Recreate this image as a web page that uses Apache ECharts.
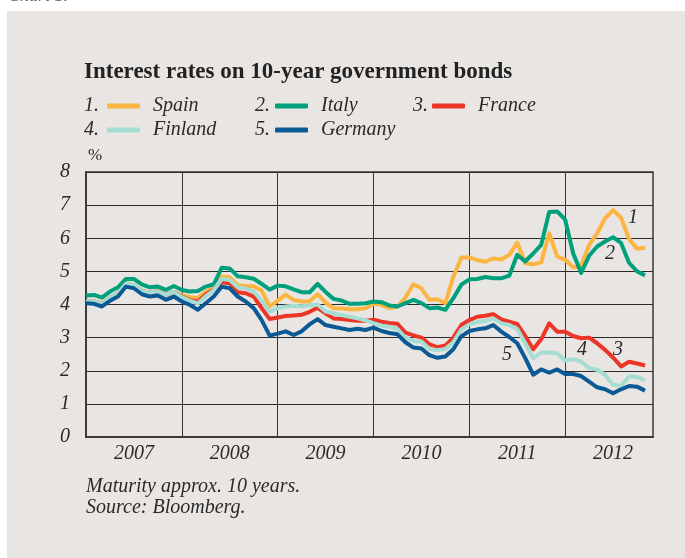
<!DOCTYPE html>
<html>
<head>
<meta charset="utf-8">
<script src="https://cdn.jsdelivr.net/npm/echarts@6/dist/echarts.min.js"></script>
<style>
  html, body { margin: 0; padding: 0; background: #fff; }
  #chart { width: 685px; height: 558px; }
</style>
</head>
<body>
<div id="chart"></div>
<script>
// monthly averages, Jan 2007 .. Nov 2012
const years = ['2007', '2008', '2009', '2010', '2011', '2012'];

const spain = [
  4.10, 4.10, 4.02, 4.20, 4.33, 4.64, 4.60, 4.42, 4.36, 4.40, 4.28, 4.38,
  4.28, 4.22, 4.20, 4.38, 4.50, 4.84, 4.82, 4.58, 4.56, 4.55, 4.42, 3.94,
  4.12, 4.30, 4.14, 4.09, 4.10, 4.31, 4.06, 3.89, 3.88, 3.86, 3.86, 3.89,
  4.02, 3.99, 3.89, 3.94, 4.21, 4.61, 4.49, 4.14, 4.16, 4.04, 4.84, 5.42,
  5.42, 5.34, 5.29, 5.39, 5.36, 5.50, 5.87, 5.25, 5.21, 5.27, 6.15, 5.45,
  5.35, 5.12, 5.18, 5.80, 6.15, 6.60, 6.85, 6.62, 5.98, 5.68, 5.71
];
const italy = [
  4.27, 4.29, 4.21, 4.39, 4.52, 4.77, 4.77, 4.61, 4.52, 4.54, 4.44, 4.56,
  4.44, 4.39, 4.41, 4.54, 4.61, 5.11, 5.09, 4.85, 4.82, 4.78, 4.62, 4.45,
  4.57, 4.55, 4.46, 4.37, 4.37, 4.62, 4.38, 4.17, 4.12, 4.02, 4.02, 4.04,
  4.09, 4.07, 3.97, 3.94, 4.04, 4.14, 4.04, 3.89, 3.91, 3.84, 4.19, 4.60,
  4.76, 4.77, 4.83, 4.79, 4.79, 4.87, 5.50, 5.30, 5.54, 5.80, 6.79, 6.81,
  6.56, 5.55, 4.95, 5.47, 5.75, 5.90, 6.03, 5.86, 5.26, 5.00, 4.88
];
const france = [
  4.10, 4.10, 4.02, 4.20, 4.33, 4.62, 4.58, 4.42, 4.36, 4.40, 4.28, 4.38,
  4.24, 4.14, 4.08, 4.30, 4.45, 4.67, 4.64, 4.37, 4.34, 4.24, 3.89, 3.56,
  3.61, 3.65, 3.67, 3.69, 3.78, 3.90, 3.73, 3.58, 3.56, 3.53, 3.51, 3.51,
  3.54, 3.48, 3.44, 3.42, 3.15, 3.07, 3.00, 2.80, 2.71, 2.76, 3.00, 3.38,
  3.53, 3.63, 3.66, 3.71, 3.55, 3.48, 3.41, 3.05, 2.65, 2.95, 3.43, 3.18,
  3.18, 3.05, 2.98, 3.00, 2.83, 2.63, 2.40, 2.13, 2.27, 2.22, 2.16
];
const finland = [
  4.10, 4.10, 4.02, 4.20, 4.33, 4.63, 4.60, 4.42, 4.36, 4.40, 4.28, 4.38,
  4.22, 4.12, 4.03, 4.25, 4.43, 4.77, 4.74, 4.52, 4.48, 4.39, 4.12, 3.78,
  3.89, 3.94, 3.96, 3.95, 3.98, 4.00, 3.79, 3.73, 3.68, 3.63, 3.58, 3.52,
  3.44, 3.36, 3.33, 3.26, 3.00, 2.90, 2.88, 2.66, 2.62, 2.66, 2.86, 3.25,
  3.40, 3.47, 3.50, 3.58, 3.43, 3.38, 3.26, 2.83, 2.38, 2.55, 2.55, 2.53,
  2.31, 2.35, 2.28, 2.08, 2.03, 1.88, 1.58, 1.55, 1.83, 1.81, 1.71
];
const germany = [
  4.04, 4.02, 3.94, 4.11, 4.24, 4.54, 4.49, 4.31, 4.24, 4.27, 4.14, 4.24,
  4.09, 3.99, 3.84, 4.04, 4.24, 4.54, 4.49, 4.24, 4.09, 3.89, 3.53, 3.06,
  3.12, 3.19, 3.08, 3.19, 3.40, 3.56, 3.38, 3.33, 3.28, 3.23, 3.27, 3.23,
  3.30, 3.20, 3.14, 3.10, 2.86, 2.70, 2.67, 2.47, 2.39, 2.43, 2.65, 3.04,
  3.20, 3.25, 3.28, 3.38, 3.18, 3.02, 2.83, 2.38, 1.88, 2.04, 1.94, 2.04,
  1.90, 1.90, 1.84, 1.67, 1.50, 1.44, 1.32, 1.44, 1.54, 1.52, 1.40
];

const months = [];
years.forEach(y => {
  for (let m = 1; m <= 12; m++) months.push(y + '-' + (m < 10 ? '0' + m : m));
});

const serif = '"Liberation Serif", "DejaVu Serif", serif';
const ink = '#2a2a2a';
const fs = 20;

const seriesDefs = [
  { name: 'Spain', data: spain, color: '#fbb540' },
  { name: 'Italy', data: italy, color: '#00a07c' },
  { name: 'France', data: france, color: '#ec3526' },
  { name: 'Finland', data: finland, color: '#a6ddd3' },
  { name: 'Germany', data: germany, color: '#0b5a96' },
];

// legend slots: [left of line, row centre]
const legendPos = [[107, 106], [275, 106], [432, 106], [107, 130], [275, 130]];
const legendNum = ['1.', '2.', '3.', '4.', '5.'];
const numLeft = [84, 255, 413, 84, 255];

const chart = echarts.init(document.getElementById('chart'));

const option = {
  backgroundColor: '#ffffff',
  animation: false,
  textStyle: { fontFamily: serif, color: ink },
  grid: {
    left: 86, top: 172, right: 32, bottom: 121,
    show: true, borderColor: '#3a3a3a', borderWidth: 1.5,
    backgroundColor: 'transparent'
  },
  legend: seriesDefs.map((s, i) => ({
    data: [s.name],
    left: legendPos[i][0],
    top: legendPos[i][1] - 10,
    padding: 0,
    icon: 'roundRect',
    itemWidth: 33,
    itemHeight: 5,
    selectedMode: false,
    textStyle: {
      fontFamily: serif, fontStyle: 'italic', fontSize: fs, lineHeight: 20, color: ink,
      padding: [0, 0, 0, 8]
    }
  })),
  xAxis: {
    type: 'category',
    data: months,
    boundaryGap: false,
    axisLine: { lineStyle: { color: '#3a3a3a', width: 2 } },
    axisTick: { show: false },
    axisLabel: {
      interval: (i) => i % 12 === 6,
      formatter: v => v.slice(0, 4),
      fontFamily: serif, fontStyle: 'italic', fontSize: fs, color: ink,
      margin: 7
    },
    splitLine: {
      show: true,
      interval: (i) => i % 12 === 0,
      lineStyle: { color: '#333', width: 1 }
    }
  },
  yAxis: {
    type: 'value',
    min: 0, max: 8, interval: 1,
    name: '%',
    nameLocation: 'end',
    nameGap: 8,
    nameTextStyle: {
      fontFamily: serif, fontSize: 17, color: ink, align: 'left',
      padding: [0, 0, 0, 2]
    },
    axisLine: { show: true, lineStyle: { color: '#3a3a3a', width: 2 } },
    axisTick: { show: false },
    axisLabel: {
      fontFamily: serif, fontStyle: 'italic', fontSize: fs, color: ink,
      margin: 16
    },
    splitLine: { lineStyle: { color: '#2a2a2a', width: 1 } }
  },
  series: seriesDefs.map(s => ({
    name: s.name,
    type: 'line',
    data: s.data,
    symbol: 'none',
    color: s.color,
    lineStyle: { width: 4, color: s.color, join: 'round' }
  })),
  graphic: [
    {
      type: 'rect', z: -10, silent: true,
      shape: { x: 7, y: 11, width: 700, height: 560 },
      style: { fill: '#e9e5e2' }
    },
    {
      type: 'text', left: 8, top: -13, silent: true,
      style: { text: 'Chart 1.', fontFamily: serif, fontStyle: 'italic', fontSize: 18, fill: '#666' }
    },
    {
      type: 'text', x: 84, y: 72, silent: true,
      style: {
        text: 'Interest rates on 10-year government bonds',
        fontFamily: serif, fontWeight: 'bold', fontSize: 23, fill: '#222',
        verticalAlign: 'middle'
      }
    },
    ...legendNum.map((t, i) => ({
      type: 'text', x: numLeft[i], y: legendPos[i][1], silent: true,
      style: {
        text: t, fontFamily: serif, fontStyle: 'italic', fontSize: fs, fill: ink,
        verticalAlign: 'middle'
      }
    })),
    ...[['1', 633, 218], ['2', 610, 254], ['3', 618, 350], ['4', 582, 350], ['5', 507, 355]].map(d => ({
      type: 'text', x: d[1], y: d[2], silent: true,
      style: {
        text: d[0], fontFamily: serif, fontStyle: 'italic', fontSize: fs, fill: ink,
        align: 'center', verticalAlign: 'middle'
      }
    })),
    {
      type: 'text', left: 86, top: 476, silent: true,
      style: {
        text: 'Maturity approx. 10 years.\nSource: Bloomberg.',
        fontFamily: serif, fontStyle: 'italic', fontSize: fs, lineHeight: 21, fill: ink
      }
    }
  ]
};

chart.setOption(option);
</script>
</body>
</html>
